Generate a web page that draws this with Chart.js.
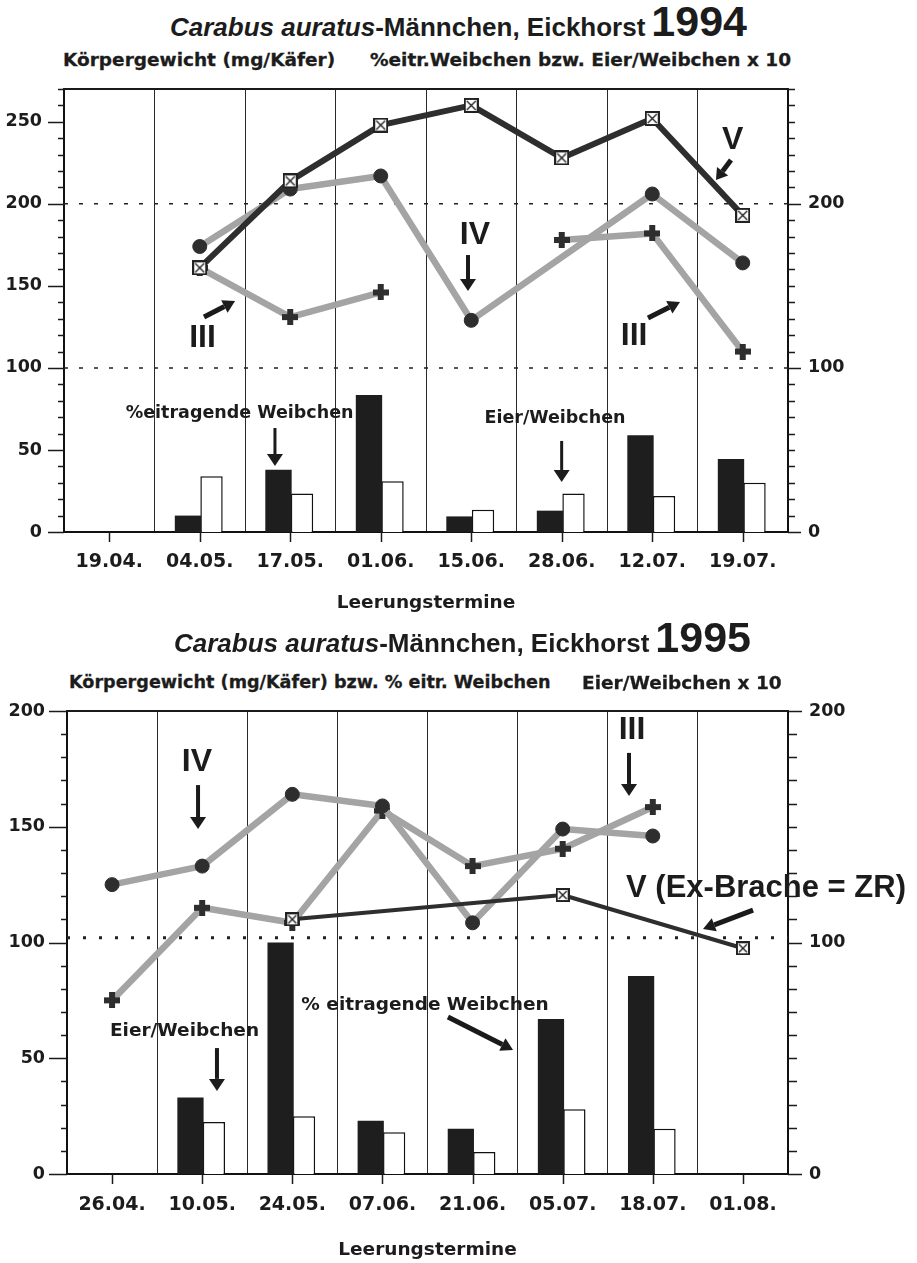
<!DOCTYPE html>
<html><head><meta charset="utf-8">
<script src="https://cdn.jsdelivr.net/npm/chart.js@4.4.0/dist/chart.umd.min.js"></script>
<style>
html,body{margin:0;padding:0;background:#fff;}
#wrap{position:relative;width:917px;height:1263px;overflow:hidden;background:#fff;}
canvas{position:absolute;left:0;}
.t{position:absolute;white-space:nowrap;line-height:1;color:#1c1c1c;}
.title{font-family:"Liberation Sans",Arial,sans-serif;font-weight:bold;font-size:26px;}
.title i{font-style:italic;}
.title .yr{font-size:43px;margin-left:6px;}
.sub{font-family:"DejaVu Sans",sans-serif;font-weight:bold;font-size:18.5px;-webkit-text-stroke:0.3px #1c1c1c;}
</style></head>
<body><div id="wrap">
<div class="t title" style="left:170px;top:0px"><i>Carabus auratus</i>-Männchen, Eickhorst<span class="yr">1994</span></div>
<div class="t sub" style="left:63px;top:51px">Körpergewicht (mg/Käfer)</div>
<div class="t sub" style="left:370px;top:51px">%eitr.Weibchen bzw. Eier/Weibchen x 10</div>
<canvas id="c1" width="917" height="620" style="top:0px"></canvas>
<div class="t title" style="left:174px;top:616px"><i>Carabus auratus</i>-Männchen, Eickhorst<span class="yr">1995</span></div>
<div class="t sub" style="left:69px;top:674px;font-size:17.6px">Körpergewicht (mg/Käfer) bzw. % eitr. Weibchen</div>
<div class="t sub" style="left:582px;top:674px">Eier/Weibchen x 10</div>
<canvas id="c2" width="917" height="643" style="top:620px"></canvas>
</div>
<script>
// ---------- DATA 1994 ----------
const labels94 = ['19.04.','04.05.','17.05.','01.06.','15.06.','28.06.','12.07.','19.07.'];
const gewichtV94   = [null,161,214,248,260,228,252,193];
const gewichtIV94  = [null,174,209,217,129,null,206,164];
const gewichtIII94 = [null,161,131,146,null,178,182,110];
const eitragend94  = [null,10,38,83.5,9.5,13,59,44.5];
const eierProWeibchen94 = [null,34,23.5,31,13.5,23.5,22,30];
const leftTicks94  = [0,50,100,150,200,250];
const rightTicks94 = [0,100,200];

// ---------- DATA 1995 ----------
const labels95 = ['26.04.','10.05.','24.05.','07.06.','21.06.','05.07.','18.07.','01.08.'];
const gewichtV95   = [null,null,110,null,null,120.5,null,97.5];
const gewichtIV95  = [125,133,164,159,108.5,149,146,null];
const gewichtIII95 = [75,115,108.5,157,133,140.5,158.5,null];
const eitragend95  = [null,33,100,23,19.5,67,85.5,null];
const eierProWeibchen95 = [null,22.5,25,18,9.5,28,19.5,null];
const leftTicks95  = [0,50,100,150,200];
const rightTicks95 = [0,100,200];

Chart.defaults.font.family = '"DejaVu Sans", sans-serif';

function plusMarker(size, arm, color){
  const c=document.createElement('canvas'); c.width=c.height=size;
  const g=c.getContext('2d'); g.fillStyle=color; const o=(size-arm)/2;
  g.fillRect(o,0,arm,size); g.fillRect(0,o,size,arm); return c;
}
function boxMarker(size, color){
  const c=document.createElement('canvas'); c.width=c.height=size;
  const g=c.getContext('2d'); g.fillStyle='#fff'; g.fillRect(1,1,size-2,size-2);
  g.strokeStyle=color; g.lineWidth=2; g.strokeRect(1,1,size-2,size-2);
  g.lineWidth=1.4; g.beginPath(); g.moveTo(3,3); g.lineTo(size-3,size-3);
  g.moveTo(size-3,3); g.lineTo(3,size-3); g.stroke(); return c;
}

function arrow(ctx,x1,y1,x2,y2,w,hl,hw){
  const a=Math.atan2(y2-y1,x2-x1);
  const bx=x2-hl*Math.cos(a), by=y2-hl*Math.sin(a);
  ctx.lineWidth=w; ctx.beginPath(); ctx.moveTo(x1,y1); ctx.lineTo(bx,by); ctx.stroke();
  ctx.beginPath(); ctx.moveTo(x2,y2);
  ctx.lineTo(bx+hw*Math.sin(a), by-hw*Math.cos(a));
  ctx.lineTo(bx-hw*Math.sin(a), by+hw*Math.cos(a));
  ctx.closePath(); ctx.fill();
}

const decoPlugin = {
  id:'deco',
  beforeDatasetsDraw(chart,args,o){
    const {ctx,chartArea:a,scales:{y}}=chart;
    ctx.save(); ctx.strokeStyle='#222'; ctx.lineWidth=o.refWidth; ctx.setLineDash(o.refDash);
    o.refLines.forEach(v=>{const py=y.getPixelForValue(v); ctx.beginPath(); ctx.moveTo(a.left,py); ctx.lineTo(a.right,py); ctx.stroke();});
    ctx.restore();
  },
  afterDraw(chart,args,o){
    const {ctx,chartArea:a,scales:{x,y}}=chart;
    ctx.save();
    ctx.strokeStyle='#1a1a1a'; ctx.fillStyle='#1c1c1c';
    ctx.lineWidth=2; ctx.beginPath(); ctx.moveTo(a.left-1,a.top); ctx.lineTo(a.right+1,a.top); ctx.stroke();
    ctx.lineWidth=1.5;
    for(let v=0; v<=y.max+0.001; v+=o.minorStep){
      const py=Math.round(y.getPixelForValue(v))+0.5;
      const lm = (v%o.leftMajor===0)?o.leftMajorLen:o.leftMinorLen;
      const rm = (v%o.rightMajor===0)?o.rightMajorLen:o.rightMinorLen;
      ctx.beginPath(); ctx.moveTo(a.left-lm,py); ctx.lineTo(a.left,py);
      ctx.moveTo(a.right,py); ctx.lineTo(a.right+rm,py); ctx.stroke();
    }
    for(let i=0;i<chart.data.labels.length;i++){
      const px=Math.round(x.getPixelForValue(i))+0.5;
      ctx.beginPath(); ctx.moveTo(px,a.bottom); ctx.lineTo(px,a.bottom+10); ctx.stroke();
    }
    ctx.textAlign='center'; ctx.textBaseline='middle';
    o.texts.forEach(t=>{ ctx.font=t.font; ctx.fillText(t.t, x.getPixelForValue(t.i), y.getPixelForValue(t.v)); });
    o.arrows.forEach(r=>{
      arrow(ctx, x.getPixelForValue(r.i1), y.getPixelForValue(r.v1), x.getPixelForValue(r.i2), y.getPixelForValue(r.v2), r.w, r.hl, r.hw);
    });
    ctx.restore();
  }
};

function lineDS(data,color,width,style,radius,order,spanGaps){
  return {type:'line',data,borderColor:color,borderWidth:width,pointStyle:style,pointRadius:radius,
    pointBackgroundColor:'#2e2e2e',pointBorderColor:'#2e2e2e',pointBorderWidth:1,order,spanGaps,
    tension:0,fill:false,yAxisID:'y',borderJoinStyle:'round',borderCapStyle:'round'};
}

function build(canvas,o){
  const tickFont={family:'"DejaVu Sans", sans-serif',weight:'bold',size:17.5};
  return new Chart(canvas,{
    type:'bar',
    data:{labels:o.labels,datasets:[
      lineDS(o.v,'#2e2e2e',o.vWidth,boxMarker(o.box,'#222'),7,0,true),
      lineDS(o.iv,'#a4a4a4',6.5,'circle',7,1,true),
      lineDS(o.iii,'#a4a4a4',6.5,plusMarker(16,6,'#2e2e2e'),7,2,false),
      {type:'bar',data:o.eitr,backgroundColor:'#1e1e1e',borderWidth:0,barPercentage:1.12,categoryPercentage:0.52,order:10,yAxisID:'y'},
      {type:'bar',data:o.eier,backgroundColor:'#ffffff',borderColor:'#111',borderWidth:1.5,barPercentage:0.95,categoryPercentage:0.52,order:11,yAxisID:'y'}
    ]},
    options:{
      responsive:false,animation:false,
      layout:{padding:{top:o.top,left:0,right:0,bottom:0}},
      plugins:{legend:{display:false},tooltip:{enabled:false},deco:o.deco},
      scales:{
        x:{offset:true,grid:{display:true,color:'#2a2a2a',lineWidth:1,drawTicks:false,offset:true},
          border:{display:true,color:'#111',width:2},
          ticks:{font:{family:'"DejaVu Sans", sans-serif',weight:'bold',size:19},color:'#1c1c1c',padding:o.xPad,autoSkip:false,maxRotation:0},
          title:{display:true,text:'Leerungstermine',font:{family:'"DejaVu Sans", sans-serif',weight:'bold',size:18.5},color:'#1c1c1c',padding:{top:0,bottom:o.titlePad}},
          afterFit(s){s.height=o.xh;}},
        y:{position:'left',min:0,max:o.max,grid:{display:false,drawTicks:false},
          border:{display:true,color:'#111',width:2},
          ticks:{font:tickFont,color:'#1c1c1c',padding:22,autoSkip:false},
          afterBuildTicks(s){s.ticks=o.leftTicks.map(v=>({value:v}));},
          afterFit(s){s.width=o.lw;}},
        y2:{position:'right',min:0,max:o.max,grid:{display:false,drawTicks:false},
          border:{display:true,color:'#111',width:2},
          ticks:{font:tickFont,color:'#1c1c1c',padding:o.rPad,autoSkip:false},
          afterBuildTicks(s){s.ticks=o.rightTicks.map(v=>({value:v}));},
          afterFit(s){s.width=o.rw;}}
      }
    },
    plugins:[decoPlugin]
  });
}

const romanFont='bold 32px "Liberation Sans", Arial, sans-serif';
build(document.getElementById('c1'),{
  labels:labels94,v:gewichtV94,iv:gewichtIV94,iii:gewichtIII94,eitr:eitragend94,eier:eierProWeibchen94,
  leftTicks:leftTicks94,rightTicks:rightTicks94,max:270,top:89,lw:64,rw:129,xh:88,xPad:18.5,titlePad:5.5,rPad:20,
  vWidth:6,box:15,
  deco:{refLines:[100,200],refDash:[4,11],refWidth:1.5,minorStep:10,
    leftMajor:50,leftMajorLen:16,leftMinorLen:6,rightMajor:100,rightMajorLen:13,rightMinorLen:7,
    texts:[
      {t:'III',i:1.03,v:118,font:romanFont},
      {t:'IV',i:4.04,v:181,font:romanFont},
      {t:'V',i:6.89,v:239,font:romanFont},
      {t:'III',i:5.80,v:119.4,font:romanFont},
      {t:'%eitragende Weibchen',i:1.44,v:72.5,font:'bold 17.5px "DejaVu Sans", sans-serif'},
      {t:'Eier/Weibchen',i:4.925,v:69.2,font:'bold 17.5px "DejaVu Sans", sans-serif'}
    ],
    arrows:[
      {i1:1.047,v1:131,i2:1.39,v2:140.8,w:5,hl:12,hw:7},
      {i1:3.964,v1:168.8,i2:3.964,v2:146.9,w:4,hl:12,hw:8},
      {i1:6.87,v1:226.7,i2:6.704,v2:214.5,w:5,hl:11,hw:7},
      {i1:5.953,v1:130.4,i2:6.307,v2:140.2,w:5,hl:12,hw:7},
      {i1:1.831,v1:63.4,i2:1.831,v2:40.2,w:3,hl:12,hw:8},
      {i1:4.999,v1:55.5,i2:4.999,v2:30.5,w:3,hl:12,hw:8}
    ]}
});

build(document.getElementById('c2'),{
  labels:labels95,v:gewichtV95,iv:gewichtIV95,iii:gewichtIII95,eitr:eitragend95,eier:eierProWeibchen95,
  leftTicks:leftTicks95,rightTicks:rightTicks95,max:200,top:91,lw:67,rw:129,xh:89,xPad:20,titlePad:1.5,rPad:21,
  vWidth:4,box:14,
  deco:{refLines:[102],refDash:[3,13],refWidth:3,minorStep:10,
    leftMajor:50,leftMajorLen:18,leftMinorLen:6,rightMajor:100,rightMajorLen:14,rightMinorLen:9,
    texts:[
      {t:'IV',i:0.942,v:178,font:romanFont},
      {t:'III',i:5.769,v:191.6,font:romanFont},
      {t:'V (Ex-Brache = ZR)',i:7.256,v:123.5,font:'bold 31px "Liberation Sans", Arial, sans-serif'},
      {t:'% eitragende Weibchen',i:3.472,v:73,font:'bold 18.5px "DejaVu Sans", sans-serif'},
      {t:'Eier/Weibchen',i:0.804,v:61.8,font:'bold 18.5px "DejaVu Sans", sans-serif'}
    ],
    arrows:[
      {i1:0.954,v1:168,i2:0.954,v2:149,w:4,hl:12,hw:8},
      {i1:5.736,v1:181.9,i2:5.736,v2:163.3,w:4,hl:12,hw:8},
      {i1:7.112,v1:114,i2:6.557,v2:105.8,w:5,hl:12,hw:7},
      {i1:3.727,v1:67.8,i2:4.449,v2:53.6,w:5,hl:12,hw:7},
      {i1:1.164,v1:54.4,i2:1.164,v2:35.9,w:4,hl:12,hw:8}
    ]}
});
</script>
</body></html>
